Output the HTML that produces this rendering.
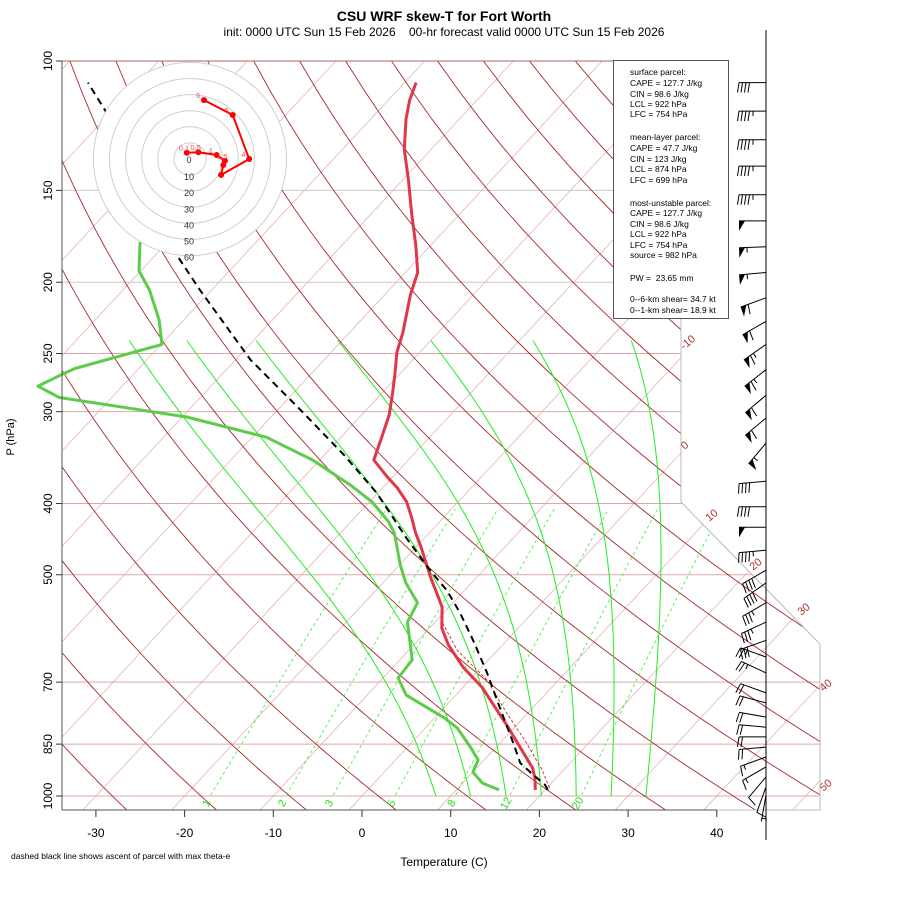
<!DOCTYPE html>
<html><head><meta charset="utf-8"><style>
body{margin:0;background:#fff}
svg{display:block;font-family:"Liberation Sans",sans-serif}
</style></head><body>
<svg id="chart" width="900" height="900" viewBox="0 0 900 900">
<defs><clipPath id="plotclip"><polygon points="62,61 681,61 681,502 820,644 820,810 62,810"/></clipPath></defs>
<text x="444" y="21" text-anchor="middle" font-size="14" font-weight="bold">CSU WRF skew-T for Fort Worth</text>
<text x="444" y="36" text-anchor="middle" font-size="12" xml:space="preserve">init: 0000 UTC Sun 15 Feb 2026    00-hr forecast valid 0000 UTC Sun 15 Feb 2026</text>
<g id="grid" clip-path="url(#plotclip)"></g>
<g id="series"></g>
<g id="frame"></g>
<g id="hodo"></g>
<g id="barbs"></g>
<g>
<rect x="613.5" y="60.5" width="115" height="258" fill="#fff" stroke="#555" stroke-width="1"/>
<g font-size="8.5" fill="#000">
<text x="630" y="75">surface parcel:</text>
<text x="630" y="86">CAPE = 127.7 J/kg</text>
<text x="630" y="97">CIN = 98.6 J/kg</text>
<text x="630" y="107">LCL = 922 hPa</text>
<text x="630" y="117">LFC = 754 hPa</text>
<text x="630" y="140">mean-layer parcel:</text>
<text x="630" y="151">CAPE = 47.7 J/kg</text>
<text x="630" y="162">CIN = 123 J/kg</text>
<text x="630" y="172">LCL = 874 hPa</text>
<text x="630" y="183">LFC = 699 hPa</text>
<text x="630" y="206">most-unstable parcel:</text>
<text x="630" y="216">CAPE = 127.7 J/kg</text>
<text x="630" y="227">CIN = 98.6 J/kg</text>
<text x="630" y="237">LCL = 922 hPa</text>
<text x="630" y="248">LFC = 754 hPa</text>
<text x="630" y="258">source = 982 hPa</text>
<text x="630" y="281" xml:space="preserve">PW =  23.65 mm</text>
<text x="630" y="302">0--6-km shear= 34.7 kt</text>
<text x="630" y="313">0--1-km shear= 18.9 kt</text>
</g></g>
<text x="444" y="866" text-anchor="middle" font-size="12">Temperature (C)</text>
<text transform="translate(14,437) rotate(-90)" text-anchor="middle" font-size="11">P (hPa)</text>
<text x="11" y="859" font-size="8.5">dashed black line shows ascent of parcel with max theta-e</text>
</svg>
<script>
// ---- data ----
const tempP = [981,945,916,801,711,668,623,591,553,504,458,439,417,398,381,368,349,328,303,283,266,249,234,208,194,178,162,145,132,120,113,107];
const tempT = [18.9,17.6,16.3,8.9,2.1,-2.1,-6.1,-8.6,-10.8,-15.2,-19.5,-21.5,-23.7,-25.8,-28.3,-30.6,-33.9,-35.2,-36.9,-38.8,-40.6,-42.6,-44.0,-47.1,-48.6,-51.7,-55.3,-59.4,-63.0,-66.0,-67.6,-68.7];
const dewP = [981,960,928,893,858,808,783,729,691,653,580,546,513,485,439,424,398,378,349,325,305,287,277,268,262,243,225,205,193,178,171];
const dewT = [14.8,12.2,10.0,9.3,7.1,3.6,1.1,-5.6,-8.3,-8.6,-13.1,-14.0,-17.4,-19.9,-23.9,-25.7,-29.7,-33.8,-40.8,-48.4,-59.5,-75.9,-79.5,-78.2,-77.2,-69.9,-72.8,-77.0,-80.2,-82.8,-84.0];
const parcelP = [981,966,936,902,847,757,680,614,564,525,493,446,387,344,298,255,205,162,120,107];
const parcelT = [20.3,19.5,17.1,14.4,11.5,6.2,1.2,-3.8,-8.1,-12.0,-16.0,-22.0,-30.1,-37.7,-47.5,-58.3,-71.3,-84.8,-99.3,-105.7];
const tvP = [975,922,847,771,695,659,633,582,553];
const tvT = [20.3,17.6,13.0,7.6,1.9,-1.8,-4.6,-9.0,-10.8];
const pTicks = [100,150,200,250,300,400,500,700,850,1000];
const tTicks = [-30,-20,-10,0,10,20,30,40];
const mixRatios = [1,2,3,5,8,12,20];
const moistTop = [-74,-67.5,-59.7,-50.5,-40,-28.5,-17.4];
const hodoU = [-2.0,5.2,16.6,21.7,20.7,19.3,36.8,26.5,8.7];
const hodoV = [3.9,4.2,2.5,-1.2,-3.7,-9.9,0,27.3,36.6];
const hodoLabels = ["0.1","0.5","1","1.5","","","4","5","6"];
const hodoRings = [10,20,30,40,50,60];
const barbP = [107,117,128,139,152,165,179,194,210,226,243,263,285,306,331,373,404,431,463,493,513,546,580,614,647,680,724,747,781,806,831,858,885,913,942,972,997];
const barbDir = [270,270,270,270,270,270,268,265,250,240,235,232,230,230,220,265,270,270,265,240,235,240,245,250,290,295,290,285,280,275,270,265,250,240,220,200,190];
const barbSpd = [40,45,45,45,45,50,55,55,60,60,65,65,60,60,55,40,40,50,45,40,40,35,35,30,25,25,20,20,20,20,20,20,15,15,10,10,5];

// ---- axes ----
const NS='http://www.w3.org/2000/svg';
function yP(p){return 796-735*Math.log10(1000/p);}
function xT(T,p){return 362+8.87*T+0.93*(796-yP(p));}
function mk(tag,attrs,parent){const e=document.createElementNS(NS,tag);for(const k in attrs)e.setAttribute(k,attrs[k]);parent.appendChild(e);return e;}
function pathFrom(ps,ts){let d='';for(let i=0;i<ps.length;i++){d+=(i?'L':'M')+xT(ts[i],ps[i]).toFixed(1)+','+yP(ps[i]).toFixed(1);}return d;}
const grid=document.getElementById('grid'),series=document.getElementById('series'),frame=document.getElementById('frame');

// isotherms
for(let T=-130;T<=60;T+=10){
  const l=mk('line',{x1:xT(T,1045),y1:yP(1045),x2:xT(T,100),y2:yP(100),stroke:'#e6b4b4','stroke-width':0.8},grid);
  
  
}
// pressure lines
pTicks.forEach(p=>{
  const l=mk('line',{x1:62,y1:yP(p),x2:820,y2:yP(p),stroke:p<=200?'#c8c8c8':'#dca9a9','stroke-width':1},grid);
  
  
});
// dry adiabats
for(let th=245;th<=470;th+=10){
  let d='';for(let p=1050;p>=100;p-=10){const T=th*Math.pow(p/1000,0.2857)-273.15;d+=(p==1050?'M':'L')+xT(T,p).toFixed(1)+','+yP(p).toFixed(1);}
  const e=mk('path',{d:d,fill:'none',stroke:'#a52a2a','stroke-width':0.9},grid);
  
  
}
// moist adiabats (integrated downward from 240 hPa)
function es(T){return 6.112*Math.exp(17.67*T/(T+243.5));}
moistTop.forEach(T0=>{
  let T=T0+273.15,d='';
  for(let p=240;p<=1000;p+=5){
    d+=(p==240?'M':'L')+xT(T-273.15,p).toFixed(1)+','+yP(p).toFixed(1);
    const e=es(T-273.15),rs=0.622*e/(p-e),L=2.5e6,Rd=287,cp=1005;
    const dTdp=(1/p)*(Rd*T+L*rs)/(cp+L*L*rs*0.622/(Rd*T*T));
    T+=dTdp*5;
  }
  const e=mk('path',{d:d,fill:'none',stroke:'#22ee22','stroke-width':1},grid);
  
  
});
// mixing ratio lines
mixRatios.forEach(w=>{
  let d='';
  for(let p=997;p>=400;p-=10){const e=p*w/(622+w),ln=Math.log(e/6.112),Td=243.5*ln/(17.67-ln);d+=(p==997?'M':'L')+xT(Td,p).toFixed(1)+','+yP(p).toFixed(1);}
  const e=mk('path',{d:d,fill:'none',stroke:'#33ee33','stroke-width':0.8,'stroke-dasharray':'3,3'},grid);
  
  
  const e2=1000*w/(622+w),ln=Math.log(e2/6.112),Td=243.5*ln/(17.67-ln);
  const t=mk('text',{x:xT(Td,1000)-4,y:807,'font-size':11,fill:'#22dd22','text-anchor':'middle',transform:'rotate(-60 '+(xT(Td,1000)-4)+' 803)'},frame);
  t.textContent=w;
  
  
});
// isotherm labels
[[-10,690,345],[0,687,448],[10,714,518],[20,758,567],[30,806,612],[40,828,688],[50,828,788]].forEach(a=>{
  const t=mk('text',{x:a[1],y:a[2],'font-size':11,fill:'#b03030','text-anchor':'middle',transform:'rotate(-40 '+a[1]+' '+a[2]+')'},frame);
  t.textContent=a[0];
  
  
});
// frame
let f=mk('polyline',{points:'681,61 681,502 820,644 820,810 717,810',fill:'none',stroke:'#bbb','stroke-width':1},frame);


f=mk('line',{x1:62,y1:61,x2:681,y2:61,stroke:'#b06060','stroke-width':1},frame);


f=mk('line',{x1:62,y1:61,x2:62,y2:810,stroke:'#555','stroke-width':1},frame);


f=mk('line',{x1:62,y1:810,x2:717,y2:810,stroke:'#555','stroke-width':1},frame);


pTicks.forEach(p=>{
  const y=yP(p);
  const tk=mk('line',{x1:56,y1:y,x2:62,y2:y,stroke:'#333'},frame);
  
  
  const t=mk('text',{x:52,y:y,'font-size':12,'text-anchor':'middle',transform:'rotate(-90 52 '+y+')'},frame);
  t.textContent=p;
  
  
});
tTicks.forEach(T=>{
  const x=362+8.87*T;
  const tk=mk('line',{x1:x,y1:810,x2:x,y2:817,stroke:'#333'},frame);
  
  
  const t=mk('text',{x:x,y:837,'font-size':12,'text-anchor':'middle'},frame);
  t.textContent=T;
  
  
});

// series
let s=mk('path',{d:pathFrom(dewP,dewT),fill:'none',stroke:'#5ccc4a','stroke-width':3,'stroke-linejoin':'round'},series);


s=mk('path',{d:pathFrom(tvP,tvT),fill:'none',stroke:'#e02020','stroke-width':0.9,'stroke-dasharray':'3,2'},series);


s=mk('path',{d:pathFrom(tempP,tempT),fill:'none',stroke:'#e0374a','stroke-width':3,'stroke-linejoin':'round'},series);


s=mk('path',{d:pathFrom(parcelP,parcelT),fill:'none',stroke:'#000','stroke-width':2,'stroke-dasharray':'7,5'},series);



// hodograph
const hodo=document.getElementById('hodo'),cx=190,cy=159,sc=1.61;
let bg=mk('circle',{cx:cx,cy:cy,r:60*sc,fill:'#fff',stroke:'none'},hodo);


hodoRings.forEach(r=>{
  const c=mk('circle',{cx:cx,cy:cy,r:r*sc,fill:'none',stroke:'#cfcfcf','stroke-width':1},hodo);
  
  
  const t=mk('text',{x:cx-1,y:cy+r*sc+5,'font-size':9,'text-anchor':'middle',fill:'#333'},hodo);
  t.textContent=r;
  
  
});
let z=mk('text',{x:cx-1,y:cy+4,'font-size':9,'text-anchor':'middle',fill:'#333'},hodo);
z.textContent='0';


let hd='';hodoU.forEach((u,i)=>{hd+=(i?'L':'M')+(cx+u*sc).toFixed(1)+','+(cy-hodoV[i]*sc).toFixed(1);});
let hp=mk('path',{d:hd,fill:'none',stroke:'#f00','stroke-width':2},hodo);


hodoU.forEach((u,i)=>{
  const px=cx+u*sc,py=cy-hodoV[i]*sc;
  const c=mk('circle',{cx:px,cy:py,r:3,fill:'#f00'},hodo);
  
  
  if(hodoLabels[i]){
    const t=mk('text',{x:px-8,y:py-2,'font-size':7.5,fill:'#f44'},hodo);
    t.textContent=hodoLabels[i];
    
    
  }
});

// wind barbs
const barbs=document.getElementById('barbs'),bx=766;
let ax=mk('line',{x1:bx,y1:30,x2:bx,y2:840,stroke:'#000','stroke-width':1},barbs);


barbP.forEach((p,i)=>{
  const y0=yP(p),b=barbDir[i]*Math.PI/180,L=27;
  const sx=Math.sin(b),sy=-Math.cos(b);
  const ex=bx+L*sx,ey=y0+L*sy;
  const px=sy,py=-sx;
  let d='M'+bx+','+y0.toFixed(1)+'L'+ex.toFixed(1)+','+ey.toFixed(1);
  let spd=Math.round(barbSpd[i]/5)*5,pos=0;
  const g=mk('g',{},barbs);
  
  
  while(spd>=50){
    const ax1=ex-sx*pos,ay1=ey-sy*pos,ax2=ex-sx*(pos+6),ay2=ey-sy*(pos+6);
    mk('path',{d:'M'+ax1+','+ay1+'L'+(ax1+10*px)+','+(ay1+10*py)+'L'+ax2+','+ay2+'Z',fill:'#000'},g);
    pos+=8;spd-=50;
  }
  while(spd>=10){
    const ax1=ex-sx*pos,ay1=ey-sy*pos;
    d+='M'+ax1.toFixed(1)+','+ay1.toFixed(1)+'l'+(10*px+1.5*sx).toFixed(1)+','+(10*py+1.5*sy).toFixed(1);
    pos+=3.5;spd-=10;
  }
  if(spd>=5){
    if(pos===0)pos=3.5;
    const ax1=ex-sx*pos,ay1=ey-sy*pos;
    d+='M'+ax1.toFixed(1)+','+ay1.toFixed(1)+'l'+(5*px).toFixed(1)+','+(5*py).toFixed(1);
  }
  mk('path',{d:d,fill:'none',stroke:'#000','stroke-width':1},g);
});
</script>
</body></html>
